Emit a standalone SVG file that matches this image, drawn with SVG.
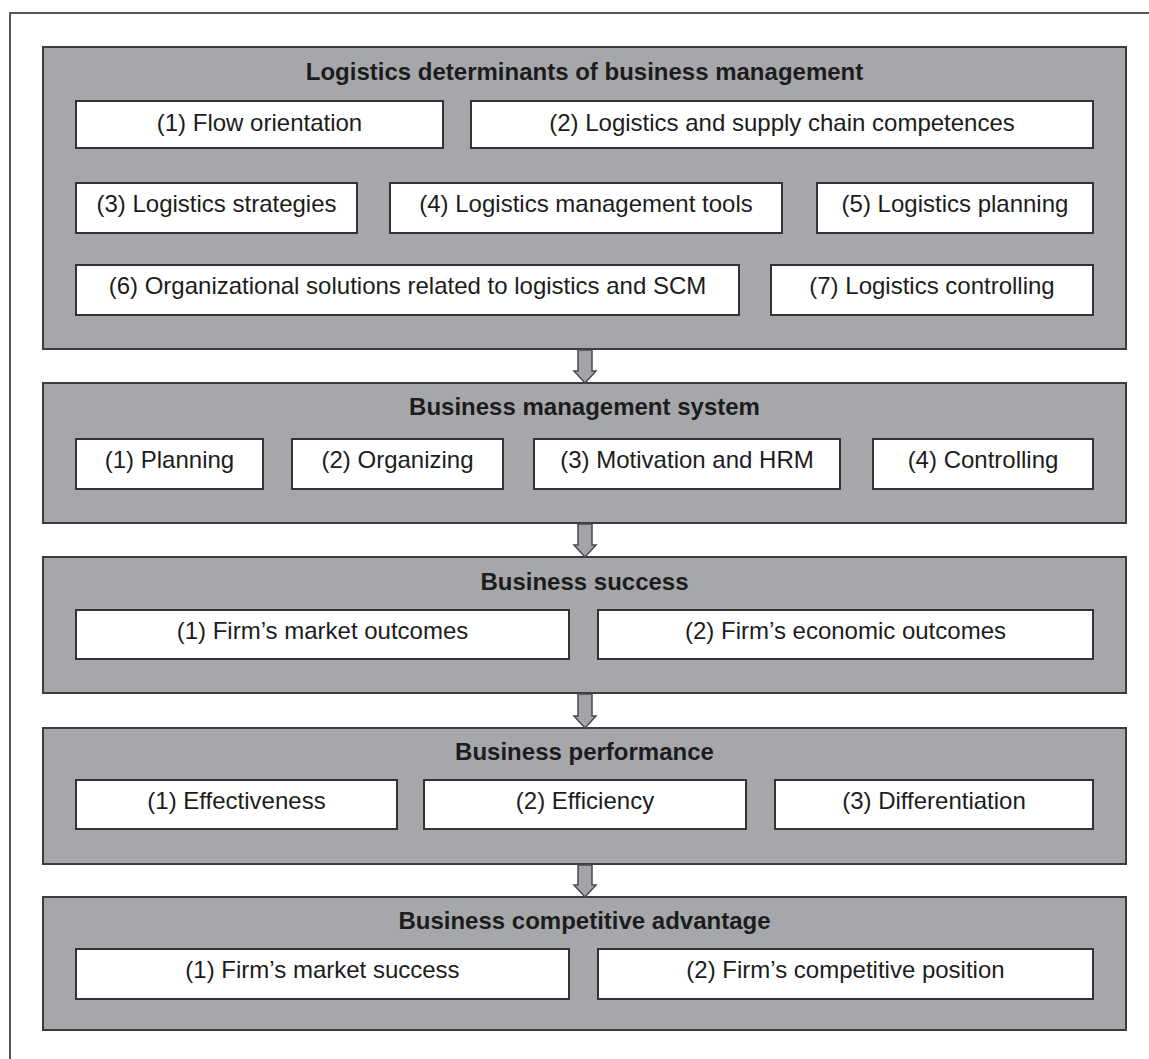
<svg xmlns="http://www.w3.org/2000/svg" width="1149" height="1059" viewBox="0 0 1149 1059">
<style>
.frame{fill:#ffffff;stroke:#555555;stroke-width:2}
.panel{fill:#a6a7ab;stroke:#3c3c3c;stroke-width:2}
.box{fill:#ffffff;stroke:#333333;stroke-width:2}
.t{font-family:"Liberation Sans",Arial,sans-serif;font-size:24px;fill:#1c1c1c;text-anchor:middle}
.h{font-family:"Liberation Sans",Arial,sans-serif;font-size:24px;font-weight:bold;fill:#1c1c1c;text-anchor:middle}
.arrow{fill:#a3a4a8;stroke:#4a4a4a;stroke-width:1.5;stroke-linejoin:miter}
</style>
<rect class="frame" x="10" y="13" width="1200" height="1100"/>

<g id="panel1">
<rect class="panel" x="43" y="47" width="1083" height="302"/>
<text class="h" x="584.5" y="80">Logistics determinants of business management</text>
<g id="p1n1"><rect class="box" x="76" y="101" width="367" height="47"/><text class="t" x="259.5" y="131">(1) Flow orientation</text></g>
<g id="p1n2"><rect class="box" x="471" y="101" width="622" height="47"/><text class="t" x="782" y="131">(2) Logistics and supply chain competences</text></g>
<g id="p1n3"><rect class="box" x="76" y="183" width="281" height="50"/><text class="t" x="216.5" y="212">(3) Logistics strategies</text></g>
<g id="p1n4"><rect class="box" x="390" y="183" width="392" height="50"/><text class="t" x="586" y="212">(4) Logistics management tools</text></g>
<g id="p1n5"><rect class="box" x="817" y="183" width="276" height="50"/><text class="t" x="955" y="212">(5) Logistics planning</text></g>
<g id="p1n6"><rect class="box" x="76" y="265" width="663" height="50"/><text class="t" x="407.5" y="294">(6) Organizational solutions related to logistics and SCM</text></g>
<g id="p1n7"><rect class="box" x="771" y="265" width="322" height="50"/><text class="t" x="932" y="294">(7) Logistics controlling</text></g>
</g>

<g id="panel2">
<rect class="panel" x="43" y="383" width="1083" height="140"/>
<text class="h" x="584.5" y="415">Business management system</text>
<g id="p2n1"><rect class="box" x="76" y="439" width="187" height="50"/><text class="t" x="169.5" y="468">(1) Planning</text></g>
<g id="p2n2"><rect class="box" x="292" y="439" width="211" height="50"/><text class="t" x="397.5" y="468">(2) Organizing</text></g>
<g id="p2n3"><rect class="box" x="534" y="439" width="306" height="50"/><text class="t" x="687" y="468">(3) Motivation and HRM</text></g>
<g id="p2n4"><rect class="box" x="873" y="439" width="220" height="50"/><text class="t" x="983" y="468">(4) Controlling</text></g>
</g>

<g id="panel3">
<rect class="panel" x="43" y="557" width="1083" height="136"/>
<text class="h" x="584.5" y="590">Business success</text>
<g id="p3n1"><rect class="box" x="76" y="610" width="493" height="49"/><text class="t" x="322.5" y="638.5">(1) Firm’s market outcomes</text></g>
<g id="p3n2"><rect class="box" x="598" y="610" width="495" height="49"/><text class="t" x="845.5" y="638.5">(2) Firm’s economic outcomes</text></g>
</g>

<g id="panel4">
<rect class="panel" x="43" y="728" width="1083" height="136"/>
<text class="h" x="584.5" y="760">Business performance</text>
<g id="p4n1"><rect class="box" x="76" y="780" width="321" height="49"/><text class="t" x="236.5" y="809">(1) Effectiveness</text></g>
<g id="p4n2"><rect class="box" x="424" y="780" width="322" height="49"/><text class="t" x="585" y="809">(2) Efficiency</text></g>
<g id="p4n3"><rect class="box" x="775" y="780" width="318" height="49"/><text class="t" x="934" y="809">(3) Differentiation</text></g>
</g>

<g id="panel5">
<rect class="panel" x="43" y="897" width="1083" height="133"/>
<text class="h" x="584.5" y="929">Business competitive advantage</text>
<g id="p5n1"><rect class="box" x="76" y="949" width="493" height="50"/><text class="t" x="322.5" y="978">(1) Firm’s market success</text></g>
<g id="p5n2"><rect class="box" x="598" y="949" width="495" height="50"/><text class="t" x="845.5" y="978">(2) Firm’s competitive position</text></g>
</g>

<g id="connectors">
<path class="arrow" d="M578,350 L592,350 L592,371 L596,371 L585,383 L574,371 L578,371 Z"/>
<path class="arrow" d="M578,524 L592,524 L592,545 L596,545 L585,557 L574,545 L578,545 Z"/>
<path class="arrow" d="M578,694 L592,694 L592,716 L596,716 L585,728 L574,716 L578,716 Z"/>
<path class="arrow" d="M578,865 L592,865 L592,885 L596,885 L585,897 L574,885 L578,885 Z"/>
</g>
</svg>
